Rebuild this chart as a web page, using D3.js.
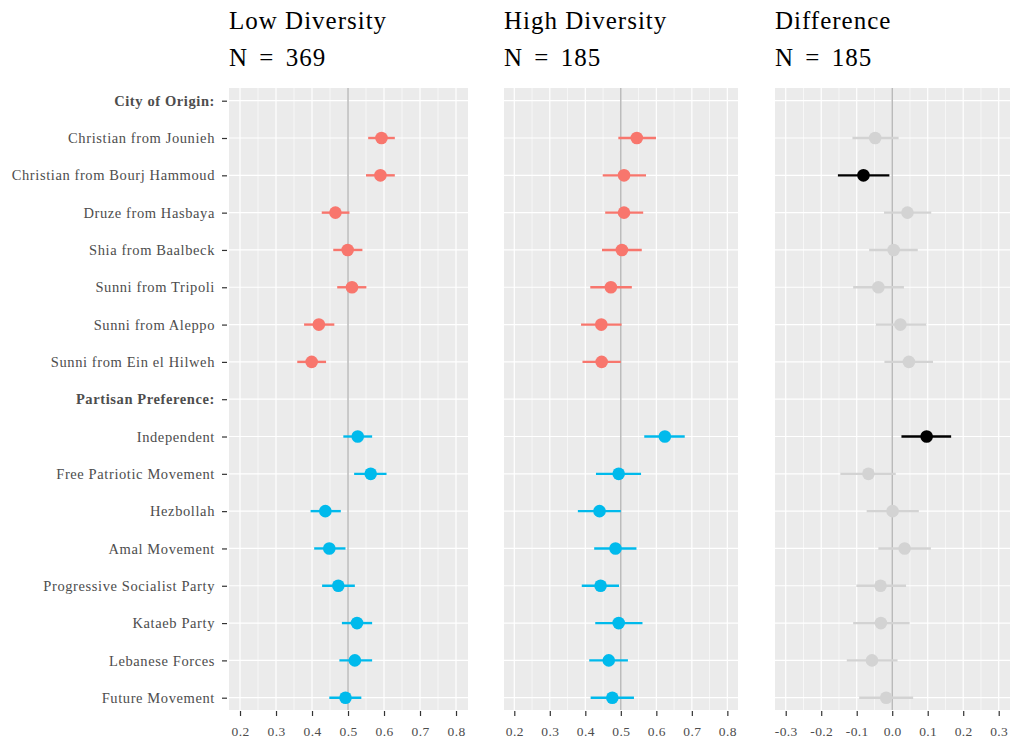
<!DOCTYPE html>
<html>
<head>
<meta charset="utf-8">
<script src="https://cdn.jsdelivr.net/npm/d3@7"></script>
<style>
  html, body { margin: 0; padding: 0; background: #fff; }
  svg { display: block; }
</style>
</head>
<body>
<svg id="chart" width="1012" height="746"></svg>
<script>
// ---------- data ----------
const categories = [
  "City of Origin:", "Christian from Jounieh", "Christian from Bourj Hammoud",
  "Druze from Hasbaya", "Shia from Baalbeck", "Sunni from Tripoli",
  "Sunni from Aleppo", "Sunni from Ein el Hilweh",
  "Partisan Preference:", "Independent", "Free Patriotic Movement",
  "Hezbollah", "Amal Movement", "Progressive Socialist Party",
  "Kataeb Party", "Lebanese Forces", "Future Movement"
];
const headings = ["City of Origin:", "Partisan Preference:"];
const groups = ["", "city","city","city","city","city","city","city",
                "", "party","party","party","party","party","party","party","party"];

const panelTitles = ["Low Diversity", "High Diversity", "Difference"];
const panelN = ["N = 369", "N = 185", "N = 185"];

const lowEst  = [null,0.593,0.590,0.465,0.499,0.511,0.419,0.399, null,0.527,0.563,0.437,0.448,0.473,0.525,0.519,0.493];
const lowLo   = [null,0.556,0.550,0.427,0.459,0.470,0.378,0.359, null,0.487,0.517,0.396,0.406,0.428,0.483,0.476,0.448];
const lowHi   = [null,0.630,0.630,0.504,0.540,0.551,0.462,0.439, null,0.567,0.607,0.480,0.493,0.519,0.567,0.567,0.537];

const highEst = [null,0.545,0.509,0.509,0.503,0.472,0.445,0.446, null,0.624,0.494,0.440,0.485,0.443,0.494,0.466,0.476];
const highLo  = [null,0.493,0.449,0.456,0.447,0.414,0.388,0.392, null,0.566,0.430,0.379,0.425,0.390,0.428,0.411,0.415];
const highHi  = [null,0.599,0.571,0.563,0.559,0.531,0.502,0.500, null,0.680,0.557,0.500,0.544,0.495,0.561,0.520,0.537];

const diffEst = [null,-0.048,-0.081,0.043,0.004,-0.039,0.023,0.047, null,0.097,-0.067,0.001,0.035,-0.033,-0.032,-0.057,-0.017];
const diffLo  = [null,-0.112,-0.153,-0.023,-0.065,-0.110,-0.046,-0.022, null,0.026,-0.146,-0.072,-0.039,-0.101,-0.110,-0.128,-0.093];
const diffHi  = [null,0.018,-0.008,0.110,0.072,0.033,0.096,0.115, null,0.166,0.010,0.075,0.109,0.039,0.049,0.015,0.059];

const xTicksProp = [0.2,0.3,0.4,0.5,0.6,0.7,0.8];
const xTicksDiff = [-0.3,-0.2,-0.1,0.0,0.1,0.2,0.3];

// ---------- layout ----------
const FONT = "'Liberation Serif', 'DejaVu Serif', serif";
const panelTop = 88, panelBottom = 710;
const rowTop = 100.7, rowBottom = 697.7;
const panels = [
  { x0: 229, x1: 468, domain: [0.1694, 0.8333], ref: 0.5, ticks: xTicksProp, est: lowEst, lo: lowLo, hi: lowHi, kind: "group" },
  { x0: 504, x1: 738, domain: [0.1710, 0.8300], ref: 0.5, ticks: xTicksProp, est: highEst, lo: highLo, hi: highHi, kind: "group" },
  { x0: 775, x1: 1010, domain: [-0.3302, 0.3318], ref: 0.0, ticks: xTicksDiff, est: diffEst, lo: diffLo, hi: diffHi, kind: "diff" }
];
const colorScale = d3.scaleOrdinal().domain(["city","party"]).range(["#F8766D","#00BAEC"]);
const fmt = d => d3.format(".1f")(d).replace("\u2212", "-");

const svg = d3.select("#chart");
const y = d3.scalePoint().domain(categories).range([rowTop, rowBottom]);

panels.forEach((p, pi) => {
  const x = d3.scaleLinear().domain(p.domain).range([p.x0, p.x1]);
  const g = svg.append("g");

  // background
  g.append("rect").attr("x", p.x0).attr("y", panelTop)
    .attr("width", p.x1 - p.x0).attr("height", panelBottom - panelTop)
    .attr("fill", "#EBEBEB");

  // minor vertical grid
  const minor = p.ticks.slice(0, -1).map((t, i) => (t + p.ticks[i+1]) / 2)
    .concat([p.ticks[0] - 0.05, p.ticks[p.ticks.length-1] + 0.05])
    .filter(v => v >= p.domain[0] && v <= p.domain[1]);
  g.selectAll(".minor").data(minor).join("line")
    .attr("x1", d => x(d)).attr("x2", d => x(d))
    .attr("y1", panelTop).attr("y2", panelBottom)
    .attr("stroke", "#fff").attr("stroke-width", 0.6);

  // major vertical grid
  g.selectAll(".major").data(p.ticks).join("line")
    .attr("x1", d => x(d)).attr("x2", d => x(d))
    .attr("y1", panelTop).attr("y2", panelBottom)
    .attr("stroke", "#fff").attr("stroke-width", 1.2);

  // horizontal grid
  g.selectAll(".hgrid").data(categories).join("line")
    .attr("x1", p.x0).attr("x2", p.x1)
    .attr("y1", d => y(d)).attr("y2", d => y(d))
    .attr("stroke", "#fff").attr("stroke-width", 1.2);

  // reference line
  g.append("line").attr("x1", x(p.ref)).attr("x2", x(p.ref))
    .attr("y1", panelTop).attr("y2", panelBottom)
    .attr("stroke", "#ABABAB").attr("stroke-width", 1.2);

  // data
  const rows = categories.map((c, i) => ({ c, i, est: p.est[i], lo: p.lo[i], hi: p.hi[i], grp: groups[i] }))
    .filter(d => d.est !== null);
  const colorOf = d => {
    if (p.kind === "group") return colorScale(d.grp);
    const sig = d.lo > 0 || d.hi < 0;
    return sig ? "#000000" : "#D3D3D3";
  };
  g.selectAll(".err").data(rows).join("line")
    .attr("x1", d => x(d.lo)).attr("x2", d => x(d.hi))
    .attr("y1", d => y(d.c)).attr("y2", d => y(d.c))
    .attr("stroke", colorOf).attr("stroke-width", 2.4);
  g.selectAll(".pt").data(rows).join("circle")
    .attr("cx", d => x(d.est)).attr("cy", d => y(d.c)).attr("r", 6.3)
    .attr("fill", colorOf);

  // x axis
  const xAxis = d3.axisBottom(x).tickValues(p.ticks).tickSize(5).tickPadding(10)
    .tickFormat(fmt);
  const ax = g.append("g").attr("transform", `translate(0,${panelBottom + 1})`).call(xAxis);
  ax.select(".domain").remove();
  ax.selectAll(".tick line").attr("stroke", "#333").attr("stroke-width", 1.2);
  ax.selectAll(".tick text").attr("fill", "#4D4D4D")
    .style("font-family", FONT).style("font-size", "13.5px").style("letter-spacing", "0.4px");

  // titles
  g.append("text").attr("x", p.x0).attr("y", 28.5).text(panelTitles[pi])
    .style("font-family", FONT).style("font-size", "25px").style("letter-spacing", "1px")
    .attr("fill", "#000");
  g.append("text").attr("x", p.x0).attr("y", 65.5).text(panelN[pi])
    .style("font-family", FONT).style("font-size", "25px").style("letter-spacing", "1px")
    .style("word-spacing", "4px").attr("fill", "#000");

  // y axis only on first panel
  if (pi === 0) {
    const yAxis = d3.axisLeft(y).tickSize(5).tickPadding(7);
    const ay = g.append("g").attr("transform", `translate(${p.x0 - 2},0)`).call(yAxis);
    ay.select(".domain").remove();
    ay.selectAll(".tick line").attr("stroke", "#333").attr("stroke-width", 1.2);
    ay.selectAll(".tick text").attr("fill", "#4D4D4D")
      .style("font-family", FONT).style("font-size", "14.5px").style("letter-spacing", "0.6px")
      .style("font-weight", d => headings.includes(d) ? "bold" : "normal");
  }
});
</script>
</body>
</html>
